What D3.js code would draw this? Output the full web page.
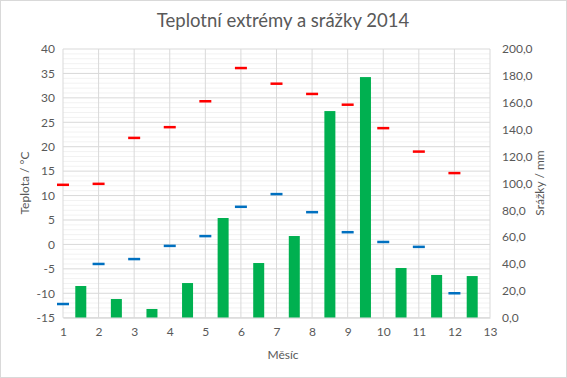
<!DOCTYPE html>
<html><head><meta charset="utf-8">
<script src="https://cdn.jsdelivr.net/npm/d3@7"></script>
<style>body{margin:0;background:#fff}svg{display:block}text{font-family:Lato,"Open Sans",sans-serif}</style>
</head><body><svg id="c" width="567" height="378"></svg>
<script>
const months = [1,2,3,4,5,6,7,8,9,10,11,12];
const tMax = [12.2,12.4,21.8,24.0,29.3,36.1,32.9,30.8,28.6,23.8,19.0,14.6];
const tMin = [-12.2,-4.0,-3.0,-0.3,1.7,7.7,10.3,6.6,2.5,0.5,-0.5,-10.0];
const rain = [23.6,13.9,6.5,25.8,74.2,40.7,60.8,153.8,179.1,37.0,31.8,31.0];
const xTicks = [1,2,3,4,5,6,7,8,9,10,11,12,13];
const yTicks = [-15,-10,-5,0,5,10,15,20,25,30,35,40];
const y2Ticks = [0,20,40,60,80,100,120,140,160,180,200];

const svg = d3.select("#c");
const L=63, R=490, T=49, B=317.7;
const x = d3.scaleLinear().domain([1,13]).range([L,R]);
const y = d3.scaleLinear().domain([-15,40]).range([B,T]);
const y2 = d3.scaleLinear().domain([0,200]).range([B,T]);
const txt="#595959";

svg.append("rect").attr("x",0.5).attr("y",0.5).attr("width",566).attr("height",377).attr("fill","#fff").attr("stroke","#d9d9d9");

// minor gridlines
const g = svg.append("g");
g.selectAll(".mn").data(d3.range(-15,41,1).filter(v=>v%5!==0)).enter().append("line")
 .attr("x1",L).attr("x2",R).attr("y1",d=>y(d)).attr("y2",d=>y(d)).attr("stroke","#f2f2f2").attr("stroke-width",1);
g.selectAll(".mj").data(yTicks).enter().append("line")
 .attr("x1",L).attr("x2",R).attr("y1",d=>y(d)).attr("y2",d=>y(d)).attr("stroke","#d9d9d9").attr("stroke-width",1);
g.selectAll(".vx").data(xTicks).enter().append("line")
 .attr("x1",d=>x(d)).attr("x2",d=>x(d)).attr("y1",T).attr("y2",B).attr("stroke","#d9d9d9").attr("stroke-width",1);

// bars
const bw = 11;
svg.selectAll(".bar").data(months).enter().append("rect")
 .attr("x",(d,i)=>x(d+0.5)-bw/2).attr("width",bw)
 .attr("y",(d,i)=>y2(rain[i])).attr("height",(d,i)=>B-y2(rain[i]))
 .attr("fill","#00b050");

// dashes
const dw=12;
svg.selectAll(".mx").data(months).enter().append("line")
 .attr("x1",d=>x(d)-dw/2).attr("x2",d=>x(d)+dw/2)
 .attr("y1",(d,i)=>y(tMax[i])).attr("y2",(d,i)=>y(tMax[i]))
 .attr("stroke","#ff0000").attr("stroke-width",2.5);
svg.selectAll(".mi").data(months).enter().append("line")
 .attr("x1",d=>x(d)-dw/2).attr("x2",d=>x(d)+dw/2)
 .attr("y1",(d,i)=>y(tMin[i])).attr("y2",(d,i)=>y(tMin[i]))
 .attr("stroke","#0070c0").attr("stroke-width",2.5);

// axes
const ax = svg.append("g").attr("transform",`translate(0,${B})`)
 .call(d3.axisBottom(x).tickValues(xTicks).tickSize(0).tickPadding(10).tickFormat(d3.format("d")));
ax.select(".domain").attr("stroke","#d9d9d9");
const ay = svg.append("g").attr("transform",`translate(${L},0)`)
 .call(d3.axisLeft(y).tickValues(yTicks).tickSize(0).tickPadding(8).tickFormat(d=>d<0?"-"+Math.abs(d):d));
ay.select(".domain").remove();
const ay2 = svg.append("g").attr("transform",`translate(${R},0)`)
 .call(d3.axisRight(y2).tickValues(y2Ticks).tickSize(0).tickPadding(12).tickFormat(d=>d.toFixed(1).replace(".",",")));
ay2.select(".domain").remove();
svg.selectAll(".tick text").attr("fill",txt).attr("font-size","12px");

svg.append("text").attr("x",283).attr("y",27).attr("text-anchor","middle").attr("fill",txt).attr("font-size","18.5px").text("Teplotní extrémy a srážky 2014");
svg.append("text").attr("x",283).attr("y",359).attr("text-anchor","middle").attr("fill",txt).attr("font-size","12px").text("Měsíc");
svg.append("text").attr("transform","translate(29,183) rotate(-90)").attr("text-anchor","middle").attr("fill",txt).attr("font-size","12px").text("Teplota / °C");
svg.append("text").attr("transform","translate(544,183) rotate(-90)").attr("text-anchor","middle").attr("fill",txt).attr("font-size","12px").text("Srážky / mm");
</script></body></html>
